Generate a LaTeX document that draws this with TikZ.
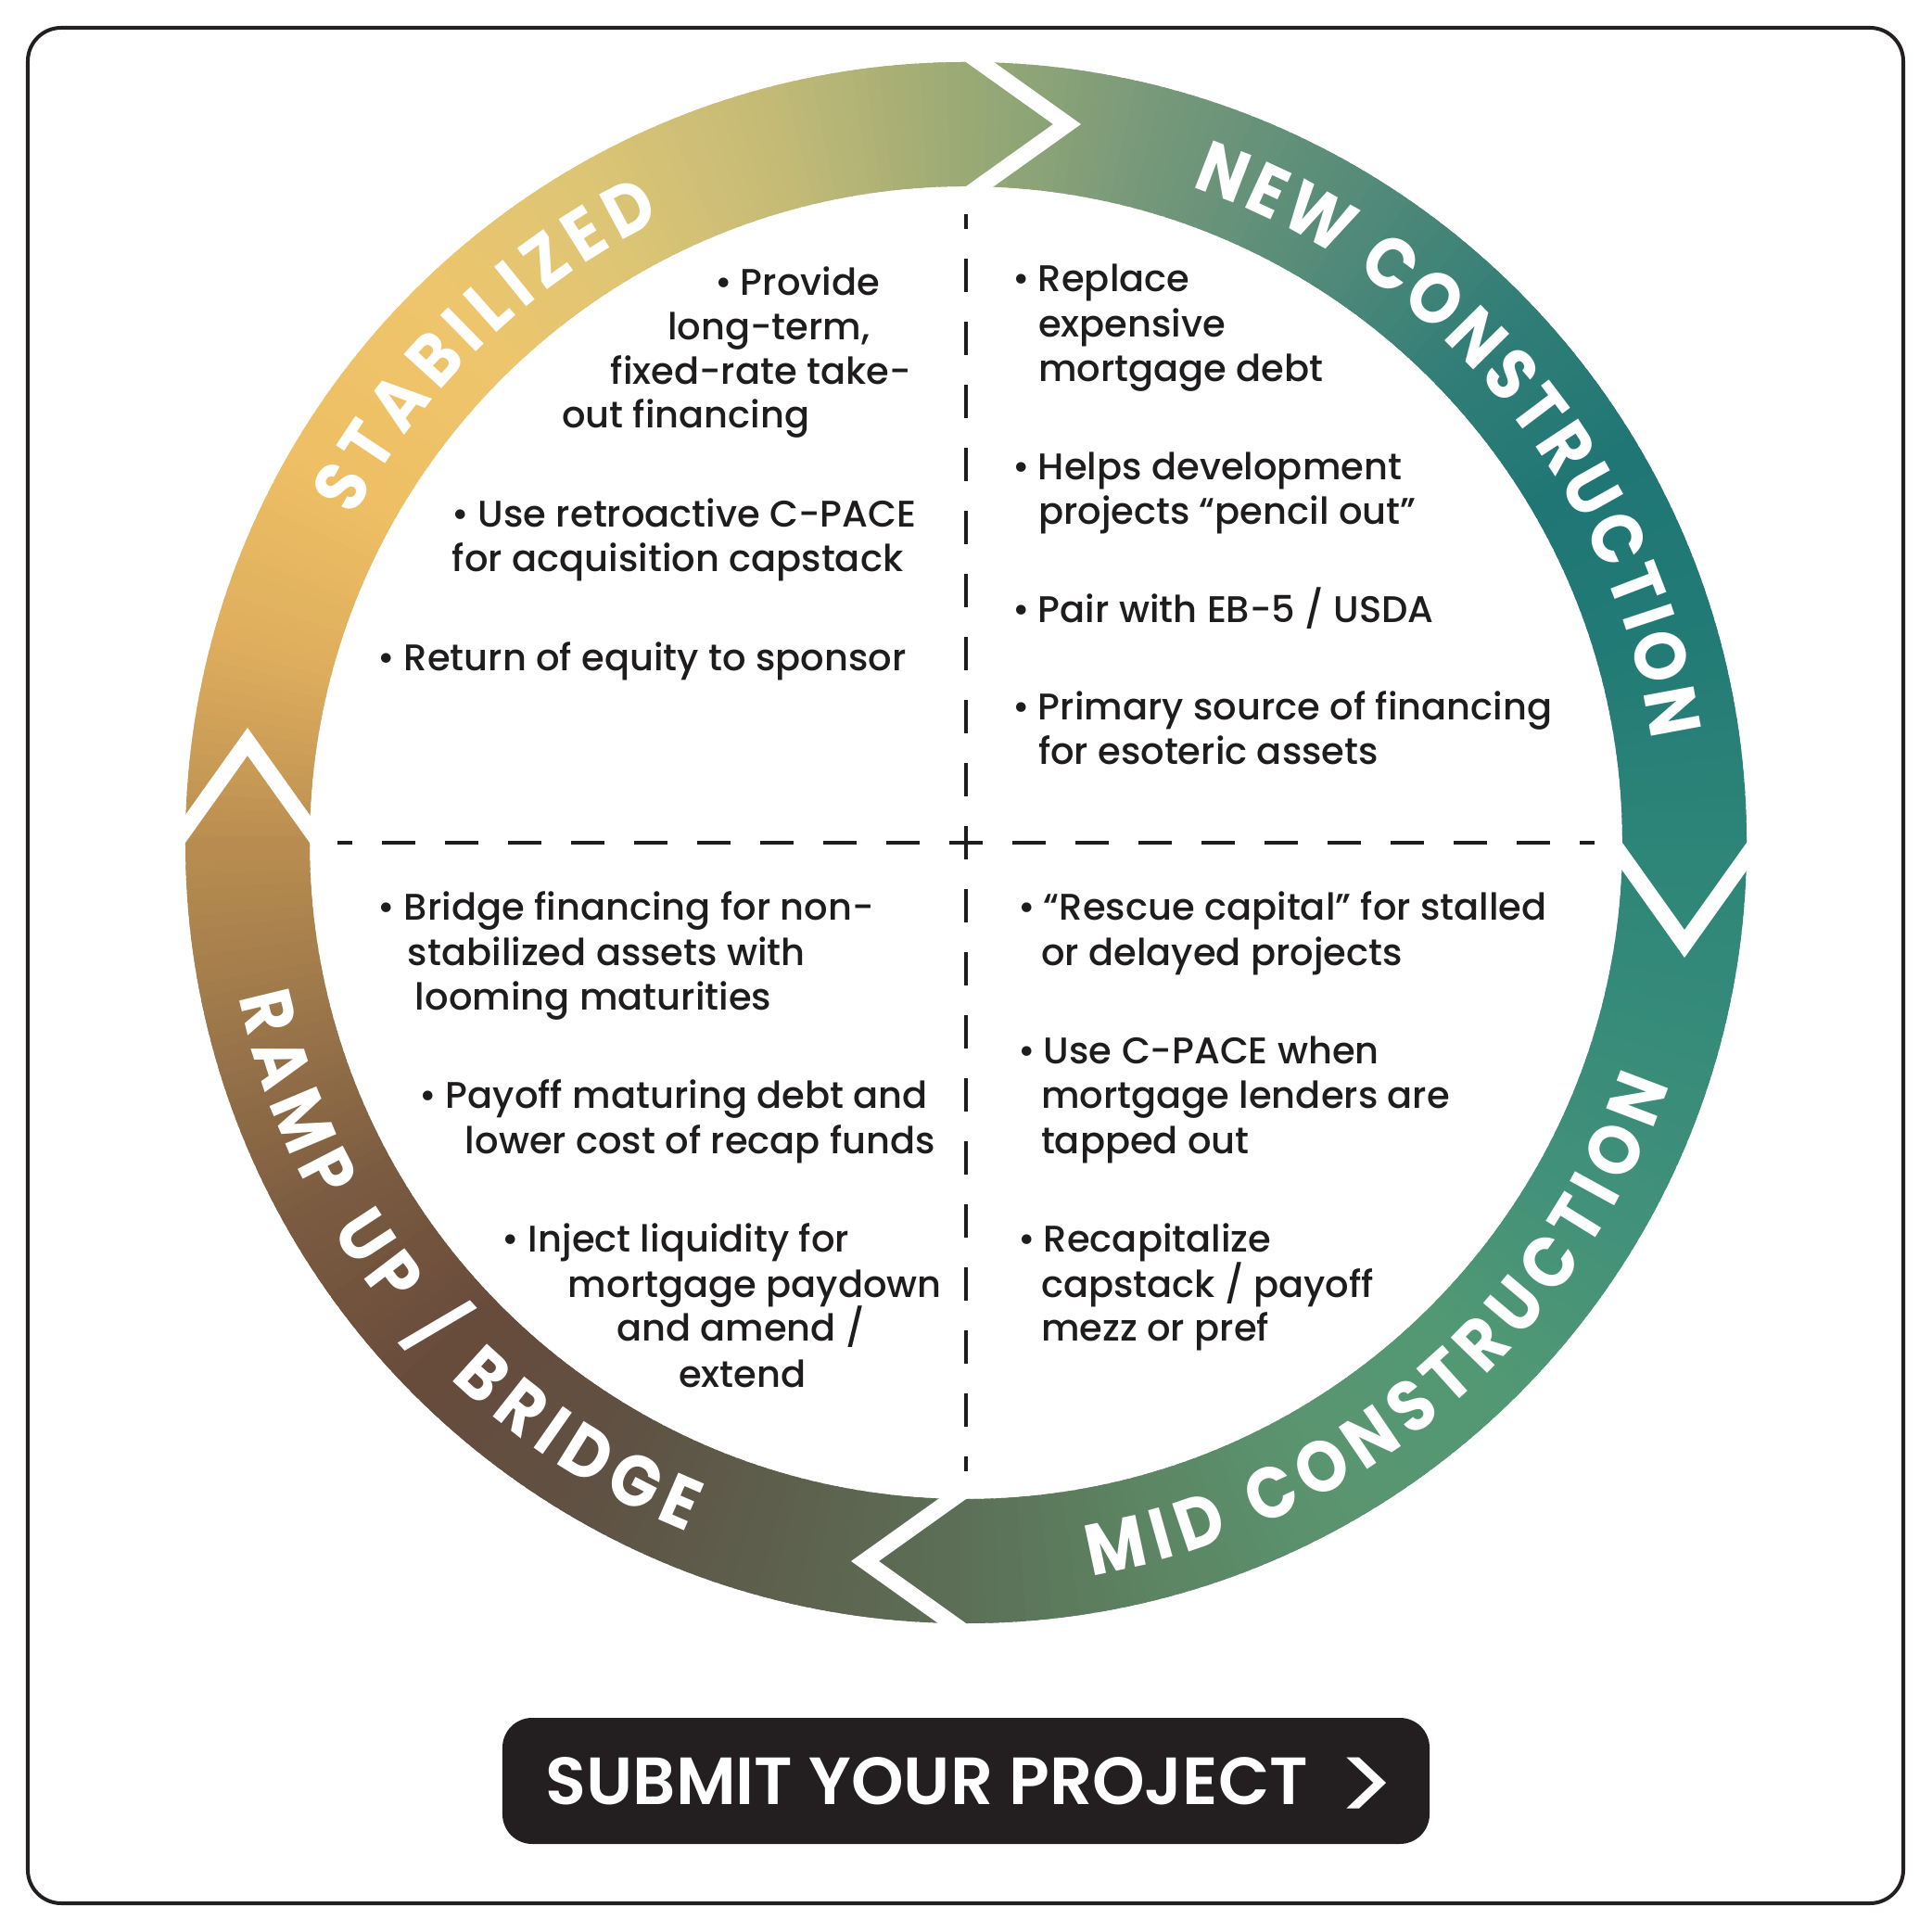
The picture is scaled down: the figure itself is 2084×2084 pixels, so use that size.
\documentclass[tikz,border=0pt]{standalone}
\usepackage{fontspec}
\setmainfont{Poppins}[UprightFont = * Medium, BoldFont = * SemiBold]
\newfontfamily\labelfam{Poppins}[UprightFont = * Bold, FakeStretch = 0.9]
\newfontfamily\arrowfam{Poppins}
\usetikzlibrary{decorations.text}

\definecolor{ink}{HTML}{1E1C1D}
\definecolor{framec}{HTML}{231F20}
% conic colour stops, every 15 degrees clockwise from the left point
\definecolor{s0}{HTML}{BA8E50}
\definecolor{s1}{HTML}{DEAE5E}
\definecolor{s2}{HTML}{EEBF64}
\definecolor{s3}{HTML}{EEC56C}
\definecolor{s4}{HTML}{DDC575}
\definecolor{s5}{HTML}{C4BA76}
\definecolor{s6}{HTML}{99AA75}
\definecolor{s7}{HTML}{76987A}
\definecolor{s8}{HTML}{578C79}
\definecolor{s9}{HTML}{337E77}
\definecolor{s10}{HTML}{1F7675}
\definecolor{s11}{HTML}{237B76}
\definecolor{s12}{HTML}{2D8578}
\definecolor{s13}{HTML}{368B79}
\definecolor{s14}{HTML}{42917A}
\definecolor{s15}{HTML}{519874}
\definecolor{s16}{HTML}{5A9570}
\definecolor{s17}{HTML}{5C8563}
\definecolor{s18}{HTML}{5C7057}
\definecolor{s19}{HTML}{5D604D}
\definecolor{s20}{HTML}{5F5143}
\definecolor{s21}{HTML}{674B3B}
\definecolor{s22}{HTML}{7A5A40}
\definecolor{s23}{HTML}{9A754A}
\definecolor{s24}{HTML}{BA8E50}

\newcommand{\bodyfnt}{\fontsize{10}{12}\selectfont}
\newcommand{\labelfnt}{\labelfam\fontsize{19.5}{19.5}\selectfont}
\newcommand{\bl}{\makebox[7pt][l]{•}}

\tikzset{
  txt/.style={font=\bodyfnt, text=ink, anchor=base west, inner sep=0pt, outer sep=0pt},
  divider/.style={line width=1pt, draw=ink, dash pattern=on 9pt off 8pt, dash phase=5pt},
  framebox/.style={line width=1pt, draw=framec, rounded corners=9pt},
  btn/.style={fill=framec, rounded corners=8pt, minimum width=250pt, minimum height=34pt, inner sep=0pt},
  btntext/.style={font=\bfseries\fontsize{18}{18}\selectfont, text=white, inner sep=0pt, anchor=base},
  btnarrow/.style={font=\arrowfam\fontsize{30}{30}\selectfont, text=white, inner sep=0pt, anchor=center},
  ringlabel/.style={decorate, decoration={text along path, text align={fit to path}, text color=white}},
  gapcut/.style={fill=white},
}

\begin{document}
\begin{tikzpicture}[x=0.25pt, y=0.25pt]
\useasboundingbox (-1042,909) rectangle (1042,-1175);
\fill[white] (-1042,909) rectangle (1042,-1175);

% outer frame
\draw[framebox] (-1012,879) rectangle (1011,-1144);

% ring with conic gradient
\begin{scope}[even odd rule]
  \clip (0,0) circle[radius=842] (0,0) circle[radius=708];
  \foreach \p in {0,...,359}{
    \pgfmathtruncatemacro\cidA{\p/15}
    \pgfmathtruncatemacro\cidB{\cidA+1}
    \pgfmathtruncatemacro\mixpct{100-(\p-15*\cidA)*100/15}
    \pgfmathsetmacro\angA{180-\p+0.4}
    \pgfmathsetmacro\angB{180-\p-1.4}
    \fill[fill=s\cidA!\mixpct!s\cidB] (0,0) -- (\angA:900) -- (\angB:900) -- cycle;
  }
\end{scope}

% white chevron gaps (arrow heads, clockwise)
\foreach \b in {90,0,-90,180}{
  \begin{scope}[rotate=\b-90]
    \fill[gapcut] (-21,857) -- (94,775) -- (-21,693) -- (9,693) -- (124,775) -- (9,857) -- cycle;
  \end{scope}
}

% ring labels
\path[ringlabel, decoration={text={|\labelfnt|STABILIZED}}]
  (152:748) arc[start angle=152, end angle=116, radius=748];
\path[ringlabel, decoration={text={|\labelfnt|NEW CONSTRUCTION}}]
  (71:748) arc[start angle=71, end angle=8.5, radius=748];
\path[ringlabel, decoration={text={|\labelfnt|MID CONSTRUCTION}}]
  (-80.3:802) arc[start angle=-80.3, end angle=-19, radius=802];
\path[ringlabel, decoration={text={|\labelfnt|RAMP UP / BRIDGE}}]
  (192:802) arc[start angle=192, end angle=248, radius=802];

% quadrant dividers
\coordinate (vtop) at (0,678);
\coordinate (vbot) at (0,-678);
\coordinate (hleft) at (-678,0);
\coordinate (hright) at (678,0);
\draw[divider] (vtop) -- (vbot);
\draw[divider] (hleft) -- (hright);

% top-left: stabilized
\node[txt] (tl1) at (-271,590) {\bl Provide};
\node[txt] (tl2) at (-322,542) {long-term,};
\node[txt] (tl3) at (-383,494) {fixed-rate take-};
\node[txt] (tl4) at (-436,447) {out financing};
\node[txt] (tl5) at (-554,340) {\bl Use retroactive C-PACE};
\node[txt] (tl6) at (-554,292) {for acquisition capstack};
\node[txt] (tl7) at (-634,185) {\bl Return of equity to sponsor};

% top-right: new construction
\node[txt] (tr1) at (50,594) {\bl Replace};
\node[txt] (tr2) at (78,545) {expensive};
\node[txt] (tr3) at (78,497) {mortgage debt};
\node[txt] (tr4) at (50,391) {\bl Helps development};
\node[txt] (tr5) at (78,343) {projects “pencil out”};
\node[txt] (tr6) at (50,237) {\bl Pair with EB-5 / USDA};
\node[txt] (tr7) at (50,132) {\bl Primary source of financing};
\node[txt] (tr8) at (78,84) {for esoteric assets};

% bottom-left: ramp up / bridge
\node[txt] (bl1) at (-634,-84) {\bl Bridge financing for non-};
\node[txt] (bl2) at (-602,-133) {stabilized assets with};
\node[txt] (bl3) at (-594,-181) {looming maturities};
\node[txt] (bl4) at (-589,-287) {\bl Payoff maturing debt and};
\node[txt] (bl5) at (-540,-336) {lower cost of recap funds};
\node[txt] (bl6) at (-500,-441) {\bl Inject liquidity for};
\node[txt] (bl7) at (-429,-490) {mortgage paydown};
\node[txt] (bl8) at (-377,-538) {and amend /};
\node[txt] (bl9) at (-310,-587) {extend};

% bottom-right: mid construction
\node[txt] (br1) at (56,-84) {\bl “Rescue capital” for stalled};
\node[txt] (br2) at (81,-133) {or delayed projects};
\node[txt] (br3) at (56,-239) {\bl Use C-PACE when};
\node[txt] (br4) at (81,-287) {mortgage lenders are};
\node[txt] (br5) at (81,-336) {tapped out};
\node[txt] (br6) at (56,-441) {\bl Recapitalize};
\node[txt] (br7) at (81,-490) {capstack / payoff};
\node[txt] (br8) at (81,-538) {mezz or pref};

% button
\node[btn] (submit) at (0,-1012) {};
\node[btntext] (submitlabel) at (-42,-1037) {SUBMIT YOUR PROJECT};
\node[btnarrow] (submitarrow) at (432,-1023) {>};
\end{tikzpicture}
\end{document}
